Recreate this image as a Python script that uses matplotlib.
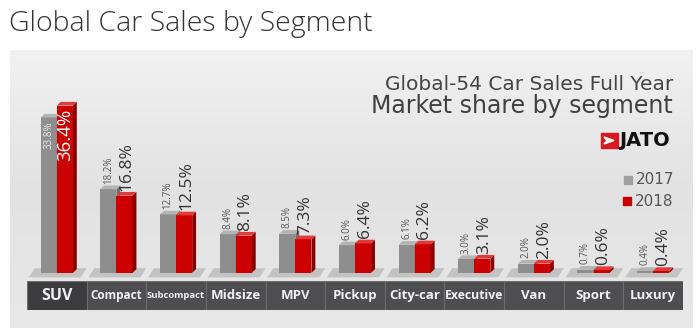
import numpy as np
import matplotlib.pyplot as plt
from matplotlib.colors import LinearSegmentedColormap
from matplotlib.patches import Polygon, Rectangle

# data
segments = ['SUV', 'Compact', 'Subcompact', 'Midsize', 'MPV', 'Pickup',
            'City-car', 'Executive', 'Van', 'Sport', 'Luxury']
share_2017 = [33.8, 18.2, 12.7, 8.4, 8.5, 6.0, 6.1, 3.0, 2.0, 0.7, 0.4]
share_2018 = [36.4, 16.8, 12.5, 8.1, 7.3, 6.4, 6.2, 3.1, 2.0, 0.6, 0.4]
label_sizes = [11.5, 8.5, 6.8, 9.5, 9.5, 9.5, 9.5, 8.8, 9.5, 9.5, 9.5]

W, H = 700, 331
FONT = 'Open Sans'
HEAD = 'DejaVu Sans'


def fx(px):
    return px / W


def fy(py):
    return 1 - py / H


fig = plt.figure(figsize=(7, 3.31), dpi=100)
fig.patch.set_facecolor('white')

# grey panel with a soft gradient
bg = fig.add_axes([fx(10), fy(328), fx(683), 278 / H])
cmap = LinearSegmentedColormap.from_list('panel', ['#f1f1f1', '#e2e2e2', '#e8e8e8'])
grad = np.linspace(0, 1, 100).reshape(-1, 1)
bg.imshow(grad, aspect='auto', cmap=cmap, extent=[0, 1, 0, 1], origin='upper')
bg.axis('off')

fig.text(fx(9), fy(24), 'Global Car Sales by Segment', fontsize=20.5,
         family=FONT, fontweight='light', color='#333333', va='center', ha='left')

# headings inside the panel
fig.text(fx(673), fy(84), 'Global-54 Car Sales Full Year', fontsize=14.5,
         family=HEAD, color='#444444', ha='right', va='center')
fig.text(fx(673), fy(106), 'Market share by segment', fontsize=17,
         family=HEAD, color='#404040', ha='right', va='center')

# JATO logo
fig.patches.append(Rectangle((fx(601), fy(148)), fx(17), 15 / H, color='#d71920',
                             transform=fig.transFigure, figure=fig))
fig.patches.append(Polygon([(fx(604), fy(137)), (fx(614), fy(140.5)), (fx(604), fy(144)),
                            (fx(607), fy(140.5))], closed=True, color='white',
                           transform=fig.transFigure, figure=fig))
fig.text(fx(619), fy(141), 'JATO', fontsize=14, family='DejaVu Sans', fontweight='bold',
         color='#111111', ha='left', va='center')

# legend
fig.patches.append(Rectangle((fx(624), fy(184)), fx(8), 8 / H, color='#a0a0a0',
                             transform=fig.transFigure, figure=fig))
fig.text(fx(636), fy(180), '2017', fontsize=11, family=HEAD, color='#555555',
         ha='left', va='center')
fig.patches.append(Rectangle((fx(623), fy(205)), fx(8), 8 / H, color='#cc0000',
                             transform=fig.transFigure, figure=fig))
fig.text(fx(635), fy(201), '2018', fontsize=11, family=HEAD, color='#555555',
         ha='left', va='center')

# bars
ax = fig.add_axes([fx(27), fy(282), fx(656), 193 / H])
ax.set_xlim(-0.5, 10.5)
ax.set_ylim(-2, 40)
ax.axis('off')

x = np.arange(len(segments))
w = 0.27
dx, dy = 0.065, 0.8

# floor shadow under each group
for i in x:
    ax.add_patch(Polygon([(i - 0.47, -1.0), (i + 0.40, -1.0), (i + 0.50, 1.0), (i - 0.37, 1.0)],
                         closed=True, color='#c3c3c3', lw=0))


def draw_3d(xs, heights, front, side, top):
    bars = ax.bar(xs, heights, width=w, align='edge', color=front, zorder=3)
    for b in bars:
        x0, h = b.get_x(), b.get_height()
        ax.add_patch(Polygon([(x0 + w, 0), (x0 + w + dx, dy), (x0 + w + dx, h + dy), (x0 + w, h)],
                             closed=True, color=side, lw=0, zorder=3))
        ax.add_patch(Polygon([(x0, h), (x0 + w, h), (x0 + w + dx, h + dy), (x0 + dx, h + dy)],
                             closed=True, color=top, lw=0, zorder=3))


draw_3d(x - w, share_2017, '#8e8e8e', '#6f6f6f', '#b4b4b4')
draw_3d(x, share_2018, '#cc0000', '#8a0000', '#e23a3a')

for i, (a, b) in enumerate(zip(share_2017, share_2018)):
    if i == 0:
        ax.text(i - w / 2, a - 0.8, f'{a}%', rotation=90, fontsize=7, family=FONT,
                color='#eeeeee', ha='center', va='top', zorder=5)
        ax.text(i + w / 2, b - 0.6, f'{b}%', rotation=90, fontsize=13.5, family=FONT,
                color='white', ha='center', va='top', zorder=5)
    else:
        ax.text(i - w / 2, a + dy + 0.4, f'{a}%', rotation=90, fontsize=7, family=FONT,
                color='#555555', ha='center', va='bottom', zorder=5)
        ax.text(i + w / 2 + 0.03, b + dy + 0.3, f'{b}%', rotation=90, fontsize=12.5,
                family=FONT, color='#333333', ha='center', va='bottom', zorder=5)

# category strip
strip = fig.add_axes([fx(27), fy(310), fx(656), 29 / H])
strip.set_xlim(-0.5, 10.5)
strip.set_ylim(0, 1)
strip.axis('off')
cell_colors = ['#3c3c3e'] + ['#4e4e50'] * (len(segments) - 1)
strip.bar(x, [1] * len(x), width=1, color=cell_colors, edgecolor='#6c6c6c', linewidth=0.8)
for i, (name, s) in enumerate(zip(segments, label_sizes)):
    strip.text(i, 0.5, name, fontsize=s, family=FONT, fontweight='bold', color='#f2f2f2',
               ha='center', va='center')

fig.savefig('out.png', dpi=100)
